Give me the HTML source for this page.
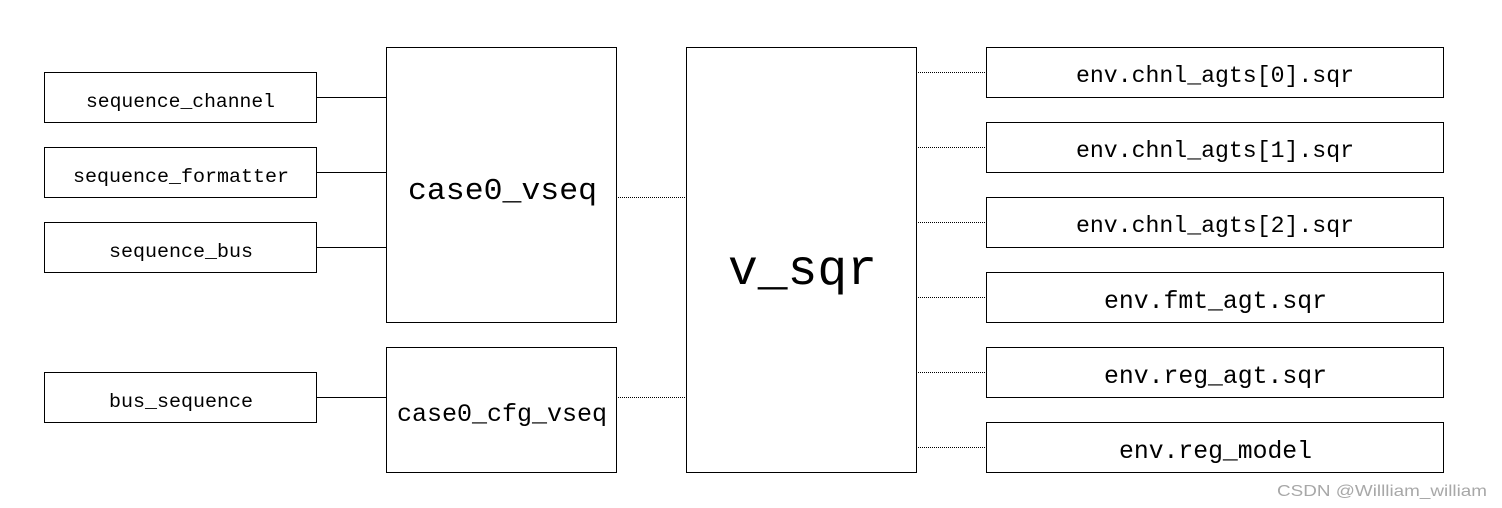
<!DOCTYPE html>
<html><head><meta charset="utf-8"><style>
html,body{margin:0;padding:0;background:#fff;width:1502px;height:508px;overflow:hidden}
svg{display:block}
.m{font-family:"Liberation Mono","Noto Sans CJK SC",monospace;fill:#000}
.w{font-family:"Liberation Sans",sans-serif;fill:#a8a8a8}
</style></head><body>
<svg width="1502" height="508" viewBox="0 0 1502 508" xmlns="http://www.w3.org/2000/svg">
<g fill="none" stroke="#000" stroke-width="1">
<rect x="44.5" y="72.5" width="272" height="50"/>
<rect x="44.5" y="147.5" width="272" height="50"/>
<rect x="44.5" y="222.5" width="272" height="50"/>
<rect x="44.5" y="372.5" width="272" height="50"/>
<rect x="386.5" y="47.5" width="230" height="275"/>
<rect x="386.5" y="347.5" width="230" height="125"/>
<rect x="686.5" y="47.5" width="230" height="425"/>
<rect x="986.5" y="47.5" width="457" height="50"/>
<rect x="986.5" y="122.5" width="457" height="50"/>
<rect x="986.5" y="197.5" width="457" height="50"/>
<rect x="986.5" y="272.5" width="457" height="50"/>
<rect x="986.5" y="347.5" width="457" height="50"/>
<rect x="986.5" y="422.5" width="457" height="50"/>
<path d="M316 97.5H386M316 172.5H386M316 247.5H386M316 397.5H386"/>
<path stroke-dasharray="1 1" d="M616 197.5H686M616 397.5H686M916 72.5H986M916 147.5H986M916 222.5H986M916 297.5H986M916 372.5H986M916 447.5H986"/>
</g>
<text class="m" x="86" y="107" font-size="19" textLength="189" lengthAdjust="spacingAndGlyphs">sequence_channel</text>
<text class="m" x="73" y="182" font-size="19" textLength="216" lengthAdjust="spacingAndGlyphs">sequence_formatter</text>
<text class="m" x="109" y="257" font-size="19" textLength="144" lengthAdjust="spacingAndGlyphs">sequence_bus</text>
<text class="m" x="109" y="407" font-size="19" textLength="144" lengthAdjust="spacingAndGlyphs">bus_sequence</text>
<text class="m" x="408" y="199" font-size="31" textLength="189" lengthAdjust="spacingAndGlyphs">case0_vseq</text>
<text class="m" x="397" y="421" font-size="25" textLength="210" lengthAdjust="spacingAndGlyphs">case0_cfg_vseq</text>
<text class="m" x="728" y="284" font-size="50" textLength="149" lengthAdjust="spacingAndGlyphs">v_sqr</text>
<text class="m" x="1076" y="82" font-size="23" textLength="278" lengthAdjust="spacingAndGlyphs">env.chnl_agts[0].sqr</text>
<text class="m" x="1076" y="157" font-size="23" textLength="278" lengthAdjust="spacingAndGlyphs">env.chnl_agts[1].sqr</text>
<text class="m" x="1076" y="232" font-size="23" textLength="278" lengthAdjust="spacingAndGlyphs">env.chnl_agts[2].sqr</text>
<text class="m" x="1104" y="308" font-size="25" textLength="223" lengthAdjust="spacingAndGlyphs">env.fmt_agt.sqr</text>
<text class="m" x="1104" y="383" font-size="25" textLength="223" lengthAdjust="spacingAndGlyphs">env.reg_agt.sqr</text>
<text class="m" x="1119" y="458" font-size="25" textLength="193" lengthAdjust="spacingAndGlyphs">env.reg_model</text>
<text class="w" x="1277" y="496" font-size="16" textLength="210" lengthAdjust="spacingAndGlyphs">CSDN @Willliam_william</text>
</svg>
</body></html>
